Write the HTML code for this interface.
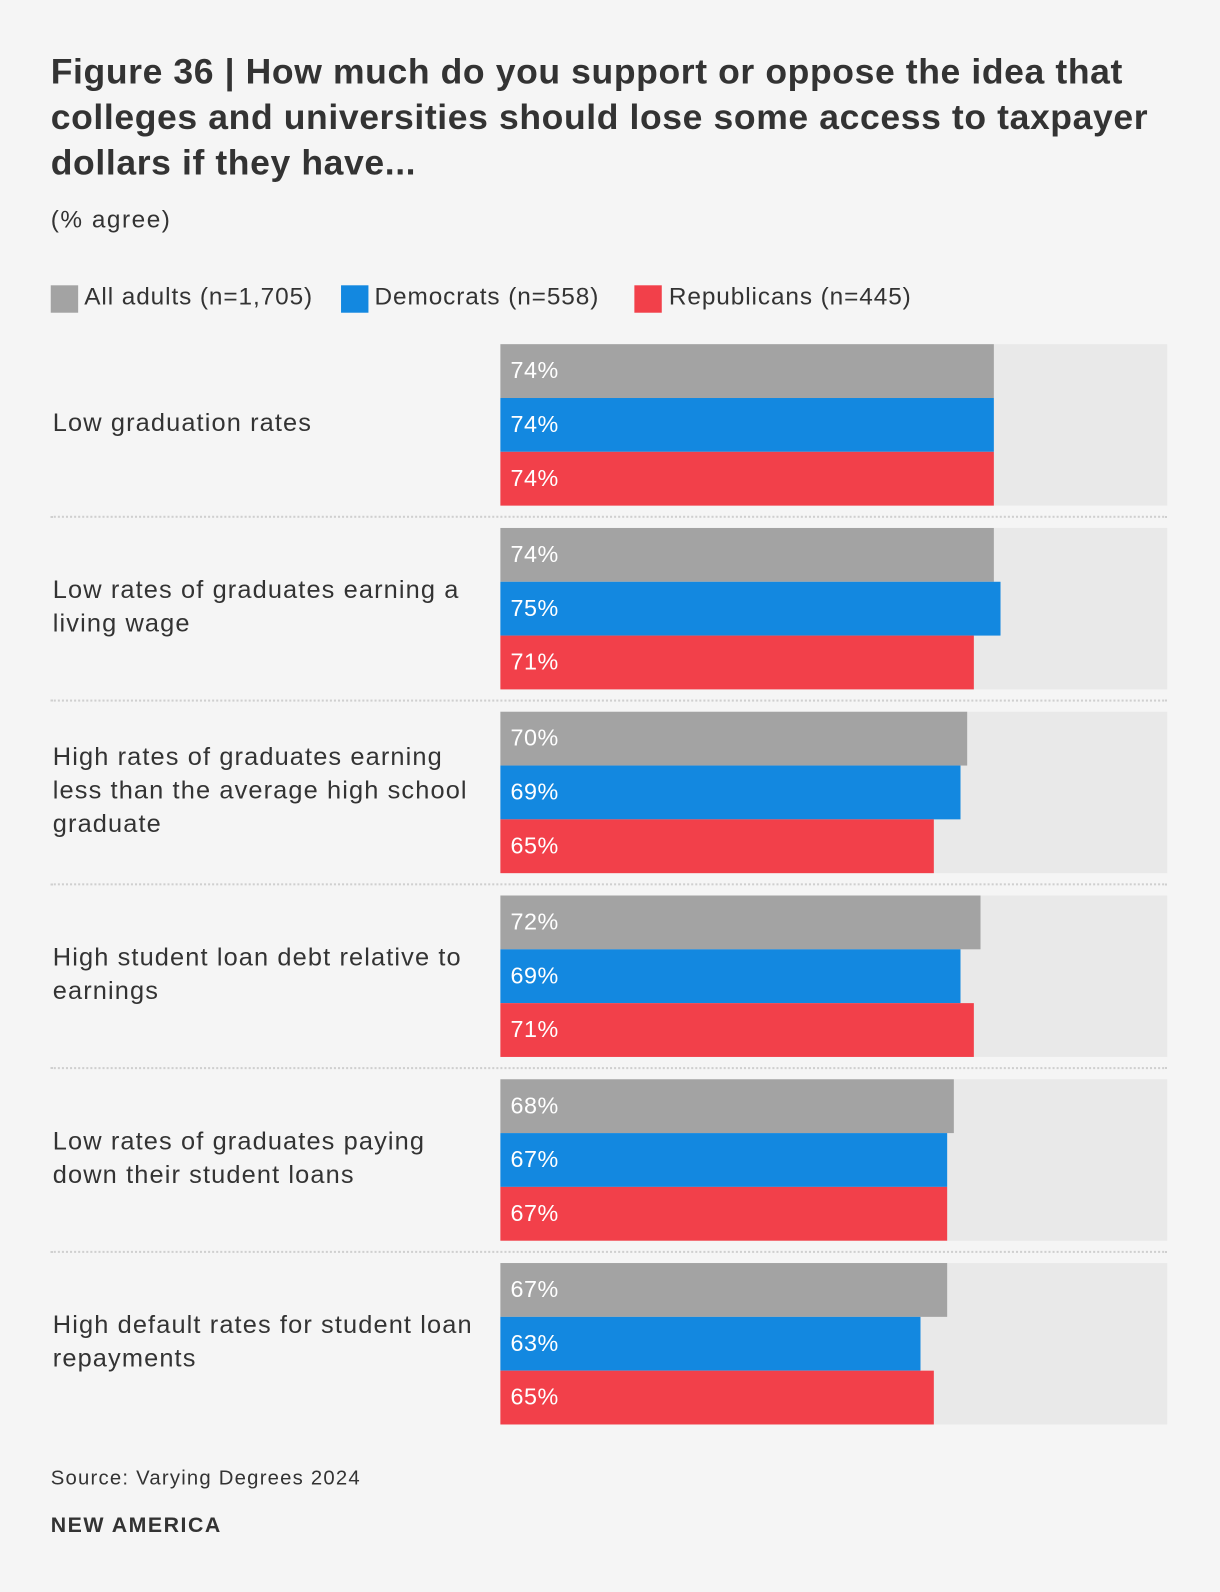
<!DOCTYPE html>
<html><head><meta charset="utf-8"><style>
html,body{margin:0;padding:0;background:#f5f5f5;}
body{width:1220px;height:1592px;overflow:hidden;}
#wrap{position:absolute;left:0;top:0;width:1202px;height:1568px;transform-origin:0 0;transform:scale(1.01498,1.01531);font-family:"Liberation Sans",sans-serif;color:#333;}
.title{position:absolute;left:50px;top:48px;width:1150px;font-size:35px;letter-spacing:0.6px;font-weight:bold;line-height:45px;color:#333;white-space:nowrap;}
.sub{position:absolute;left:50px;top:203px;font-size:24px;letter-spacing:1.5px;}
.sw{position:absolute;top:281px;width:27px;height:27px;}
.lt{position:absolute;top:279px;font-size:24px;letter-spacing:0.9px;white-space:nowrap;}
.lbl{position:absolute;left:52px;width:440px;font-size:25px;letter-spacing:1.1px;line-height:33px;transform:translateY(-50%);color:#333;white-space:nowrap;}
.sep{position:absolute;left:50px;width:1100px;border-top:2px dotted #cfcfcf;}
.src{position:absolute;left:50px;top:1445px;font-size:20px;letter-spacing:1.2px;}
.brand{position:absolute;left:50px;top:1491px;font-size:21px;letter-spacing:1.5px;font-weight:bold;}
</style></head><body>
<div id="wrap">
<div class="title">Figure 36 | How much do you support or oppose the idea that<br>colleges and universities should lose some access to taxpayer<br>dollars if they have...</div>
<div class="sub">(% agree)</div>
<span class="sw" style="left:50px;background:#a3a3a3"></span><span class="lt" style="left:83px">All adults (n=1,705)</span>
<span class="sw" style="left:336px;background:#1388e0"></span><span class="lt" style="left:369px">Democrats (n=558)</span>
<span class="sw" style="left:625px;background:#f2404a"></span><span class="lt" style="left:659px">Republicans (n=445)</span>
<svg id="bars" width="1202" height="1568" style="position:absolute;left:0;top:0"></svg>
<div class="src">Source: Varying Degrees 2024</div>
<div class="brand">NEW AMERICA</div>
</div>
<script>
const categories=["Low graduation rates","Low rates of graduates earning a living wage","High rates of graduates earning less than the average high school graduate","High student loan debt relative to earnings","Low rates of graduates paying down their student loans","High default rates for student loan repayments"];
const labelLines=[["Low graduation rates"],["Low rates of graduates earning a","living wage"],["High rates of graduates earning","less than the average high school","graduate"],["High student loan debt relative to","earnings"],["Low rates of graduates paying","down their student loans"],["High default rates for student loan","repayments"]];
const allAdults=[74,74,70,72,68,67];
const democrats=[74,75,69,69,67,63];
const republicans=[74,71,65,71,67,65];
const seriesNames=["all","dem","rep"];
const colors=["#a3a3a3","#1388e0","#f2404a"];
const X0=493,XW=657,TOP=339,STEP=181,BH=53;
function xs(v){return v/100*XW;}
function gy(i){return TOP+i*STEP;}
const svg=document.getElementById('bars');
const wrap=document.getElementById('wrap');
const NS="http://www.w3.org/2000/svg";
const series=[allAdults,democrats,republicans];
categories.forEach((c,i)=>{
  const tr=document.createElementNS(NS,'rect');
  tr.setAttribute('x',X0);tr.setAttribute('y',gy(i));tr.setAttribute('width',XW);tr.setAttribute('height',BH*3);tr.setAttribute('fill','#e9e9e9');
  
  
  svg.appendChild(tr);
  series.forEach((s,j)=>{
    const r=document.createElementNS(NS,'rect');
    const y=gy(i)+j*BH;
    r.setAttribute('x',X0);r.setAttribute('y',y);r.setAttribute('width',xs(s[i]));r.setAttribute('height',BH);r.setAttribute('fill',colors[j]);
    
    
    svg.appendChild(r);
    const t=document.createElementNS(NS,'text');
    t.setAttribute('x',X0+10);t.setAttribute('y',y+BH/2+7);t.setAttribute('fill','#fff');
    t.setAttribute('font-size','23');t.setAttribute('letter-spacing','0.5');t.setAttribute('font-family','"Liberation Sans",sans-serif');
    t.textContent=s[i]+'%';
    
    
    svg.appendChild(t);
  });
  const l=document.createElement('div');
  l.className='lbl';l.style.top=(gy(i)+BH*1.5-2)+'px';
  l.innerHTML=labelLines[i].join('<br>');
  
  
  wrap.appendChild(l);
  if(i<categories.length-1){
    const d=document.createElement('div');
    d.className='sep';d.style.top=(gy(i)+BH*3+10)+'px';
    
    
    wrap.appendChild(d);
  }
});
</script>
</body></html>
